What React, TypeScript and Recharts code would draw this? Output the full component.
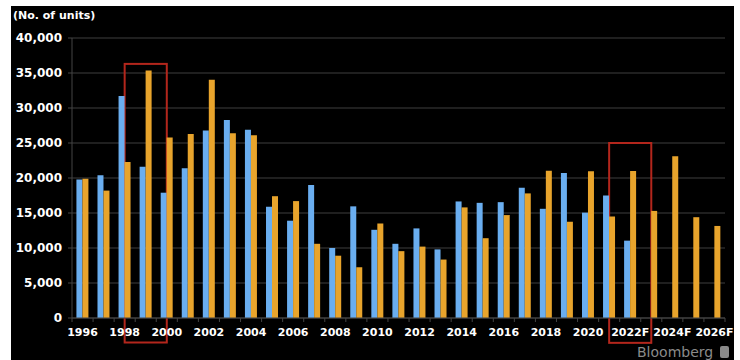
import React from 'react';
import { BarChart, Bar, XAxis, YAxis, CartesianGrid, ReferenceArea } from 'recharts';

const years = [
  '1996', '1997', '1998', '1999', '2000', '2001', '2002', '2003', '2004', '2005',
  '2006', '2007', '2008', '2009', '2010', '2011', '2012', '2013', '2014', '2015',
  '2016', '2017', '2018', '2019', '2020', '2021', '2022F', '2023F', '2024F', '2025F', '2026F',
];

const blueValues: (number | null)[] = [
  19800, 20400, 31700, 21600, 17900, 21400, 26800, 28300, 26900, 15900,
  13900, 19000, 10000, 15950, 12600, 10600, 12800, 9800, 16650, 16450,
  16550, 18600, 15600, 20700, 15050, 17500, 11050, null, null, null, null,
];

const orangeValues: number[] = [
  19900, 18200, 22300, 35350, 25800, 26300, 34050, 26400, 26100, 17400,
  16700, 10600, 8900, 7250, 13500, 9550, 10200, 8350, 15800, 11400,
  14700, 17800, 21050, 13750, 20950, 14500, 21000, 15300, 23100, 14400, 13150,
];

const yTicks = [0, 5000, 10000, 15000, 20000, 25000, 30000, 35000, 40000];

const highlightFrom = ['1998', '2021'];
const highlightTo = ['2000', '2023F'];
const highlightTop = [36300, 25000];
const highlightBottom = [-3500, -3550];

const data = years.map((year, i) => ({
  year,
  blue: blueValues[i],
  orange: orangeValues[i],
}));

const CHART_W = 723;
const CHART_H = 354;
const MARGIN = { top: 32, right: 9, bottom: 0, left: 0 };
const Y_W = 61;
const HALF_BAND = (CHART_W - MARGIN.right - Y_W) / years.length / 2;

const XTick = (props: any) => {
  const { x, y, payload, index } = props;
  return (
    <g>
      <line x1={x - HALF_BAND} x2={x - HALF_BAND} y1={y} y2={y + 4} stroke="#444" strokeWidth={1} />
      {index === years.length - 1 && (
        <line x1={x + HALF_BAND} x2={x + HALF_BAND} y1={y} y2={y + 4} stroke="#444" strokeWidth={1} />
      )}
      {index % 2 === 0 && (
        <text
          x={x}
          y={y + 17.5}
          textAnchor="middle"
          fill="#ffffff"
          fontSize={11}
          fontWeight="bold"
          fontFamily="DejaVu Sans"
        >
          {payload.value}
        </text>
      )}
    </g>
  );
};

const makeBox = (bands: number) => (p: any) => {
  const bw = p.width / bands;
  return (
    <rect
      x={p.x + bw / 2}
      y={p.y}
      width={p.width - bw}
      height={p.height}
      fill="none"
      stroke="#b3261c"
      strokeWidth={2}
    />
  );
};

export default function App() {
  return (
    <div style={{ position: 'absolute', left: 0, top: 0, width: 740, height: 360, background: '#fff', overflow: 'hidden' }}>
      <div style={{ position: 'absolute', left: 11, top: 6, width: CHART_W, height: CHART_H, background: '#000' }}>
        <BarChart
          width={CHART_W}
          height={CHART_H}
          data={data}
          margin={MARGIN}
          barCategoryGap="21%"
          barGap={0}
        >
          <CartesianGrid vertical={false} stroke="#1f1f1f" strokeWidth={2} />
          <XAxis
            dataKey="year"
            interval={0}
            tick={<XTick />}
            tickLine={false}
            tickSize={0}
            tickMargin={0}
            axisLine={{ stroke: '#444' }}
            height={42}
          />
          <YAxis
            domain={[0, 40000]}
            ticks={yTicks}
            width={Y_W}
            tickSize={4}
            tickMargin={6}
            tick={{ fill: '#ffffff', fontSize: 12, fontWeight: 'bold', fontFamily: 'DejaVu Sans' }}
            tickLine={{ stroke: '#444' }}
            axisLine={{ stroke: '#444' }}
            tickFormatter={(v: number) => v.toLocaleString('en-US')}
          />
          <Bar dataKey="blue" fill="#6aaef0" isAnimationActive={false} />
          <Bar dataKey="orange" fill="#e8a42c" isAnimationActive={false} />
          {highlightFrom.map((from, i) => {
            const bands = years.indexOf(highlightTo[i]) - years.indexOf(from) + 1;
            return (
              <ReferenceArea
                key={from}
                x1={from}
                x2={highlightTo[i]}
                y1={highlightBottom[i]}
                y2={highlightTop[i]}
                ifOverflow="visible"
                shape={makeBox(bands)}
              />
            );
          })}
        </BarChart>
        <div
          style={{
            position: 'absolute',
            left: 2,
            top: 4,
            color: '#fff',
            fontFamily: 'DejaVu Sans',
            fontWeight: 'bold',
            fontSize: 11,
            lineHeight: '12px',
            whiteSpace: 'nowrap',
          }}
        >
          (No. of units)
        </div>
        <div
          style={{
            position: 'absolute',
            left: 626,
            top: 338,
            color: '#8a8a8a',
            fontFamily: 'DejaVu Sans',
            fontSize: 14,
            lineHeight: '17px',
            whiteSpace: 'nowrap',
          }}
        >
          Bloomberg
        </div>
        <div
          style={{
            position: 'absolute',
            left: 709,
            top: 340,
            width: 9,
            height: 12,
            borderRadius: 2,
            background: '#8a8a8a',
          }}
        />
      </div>
    </div>
  );
}
